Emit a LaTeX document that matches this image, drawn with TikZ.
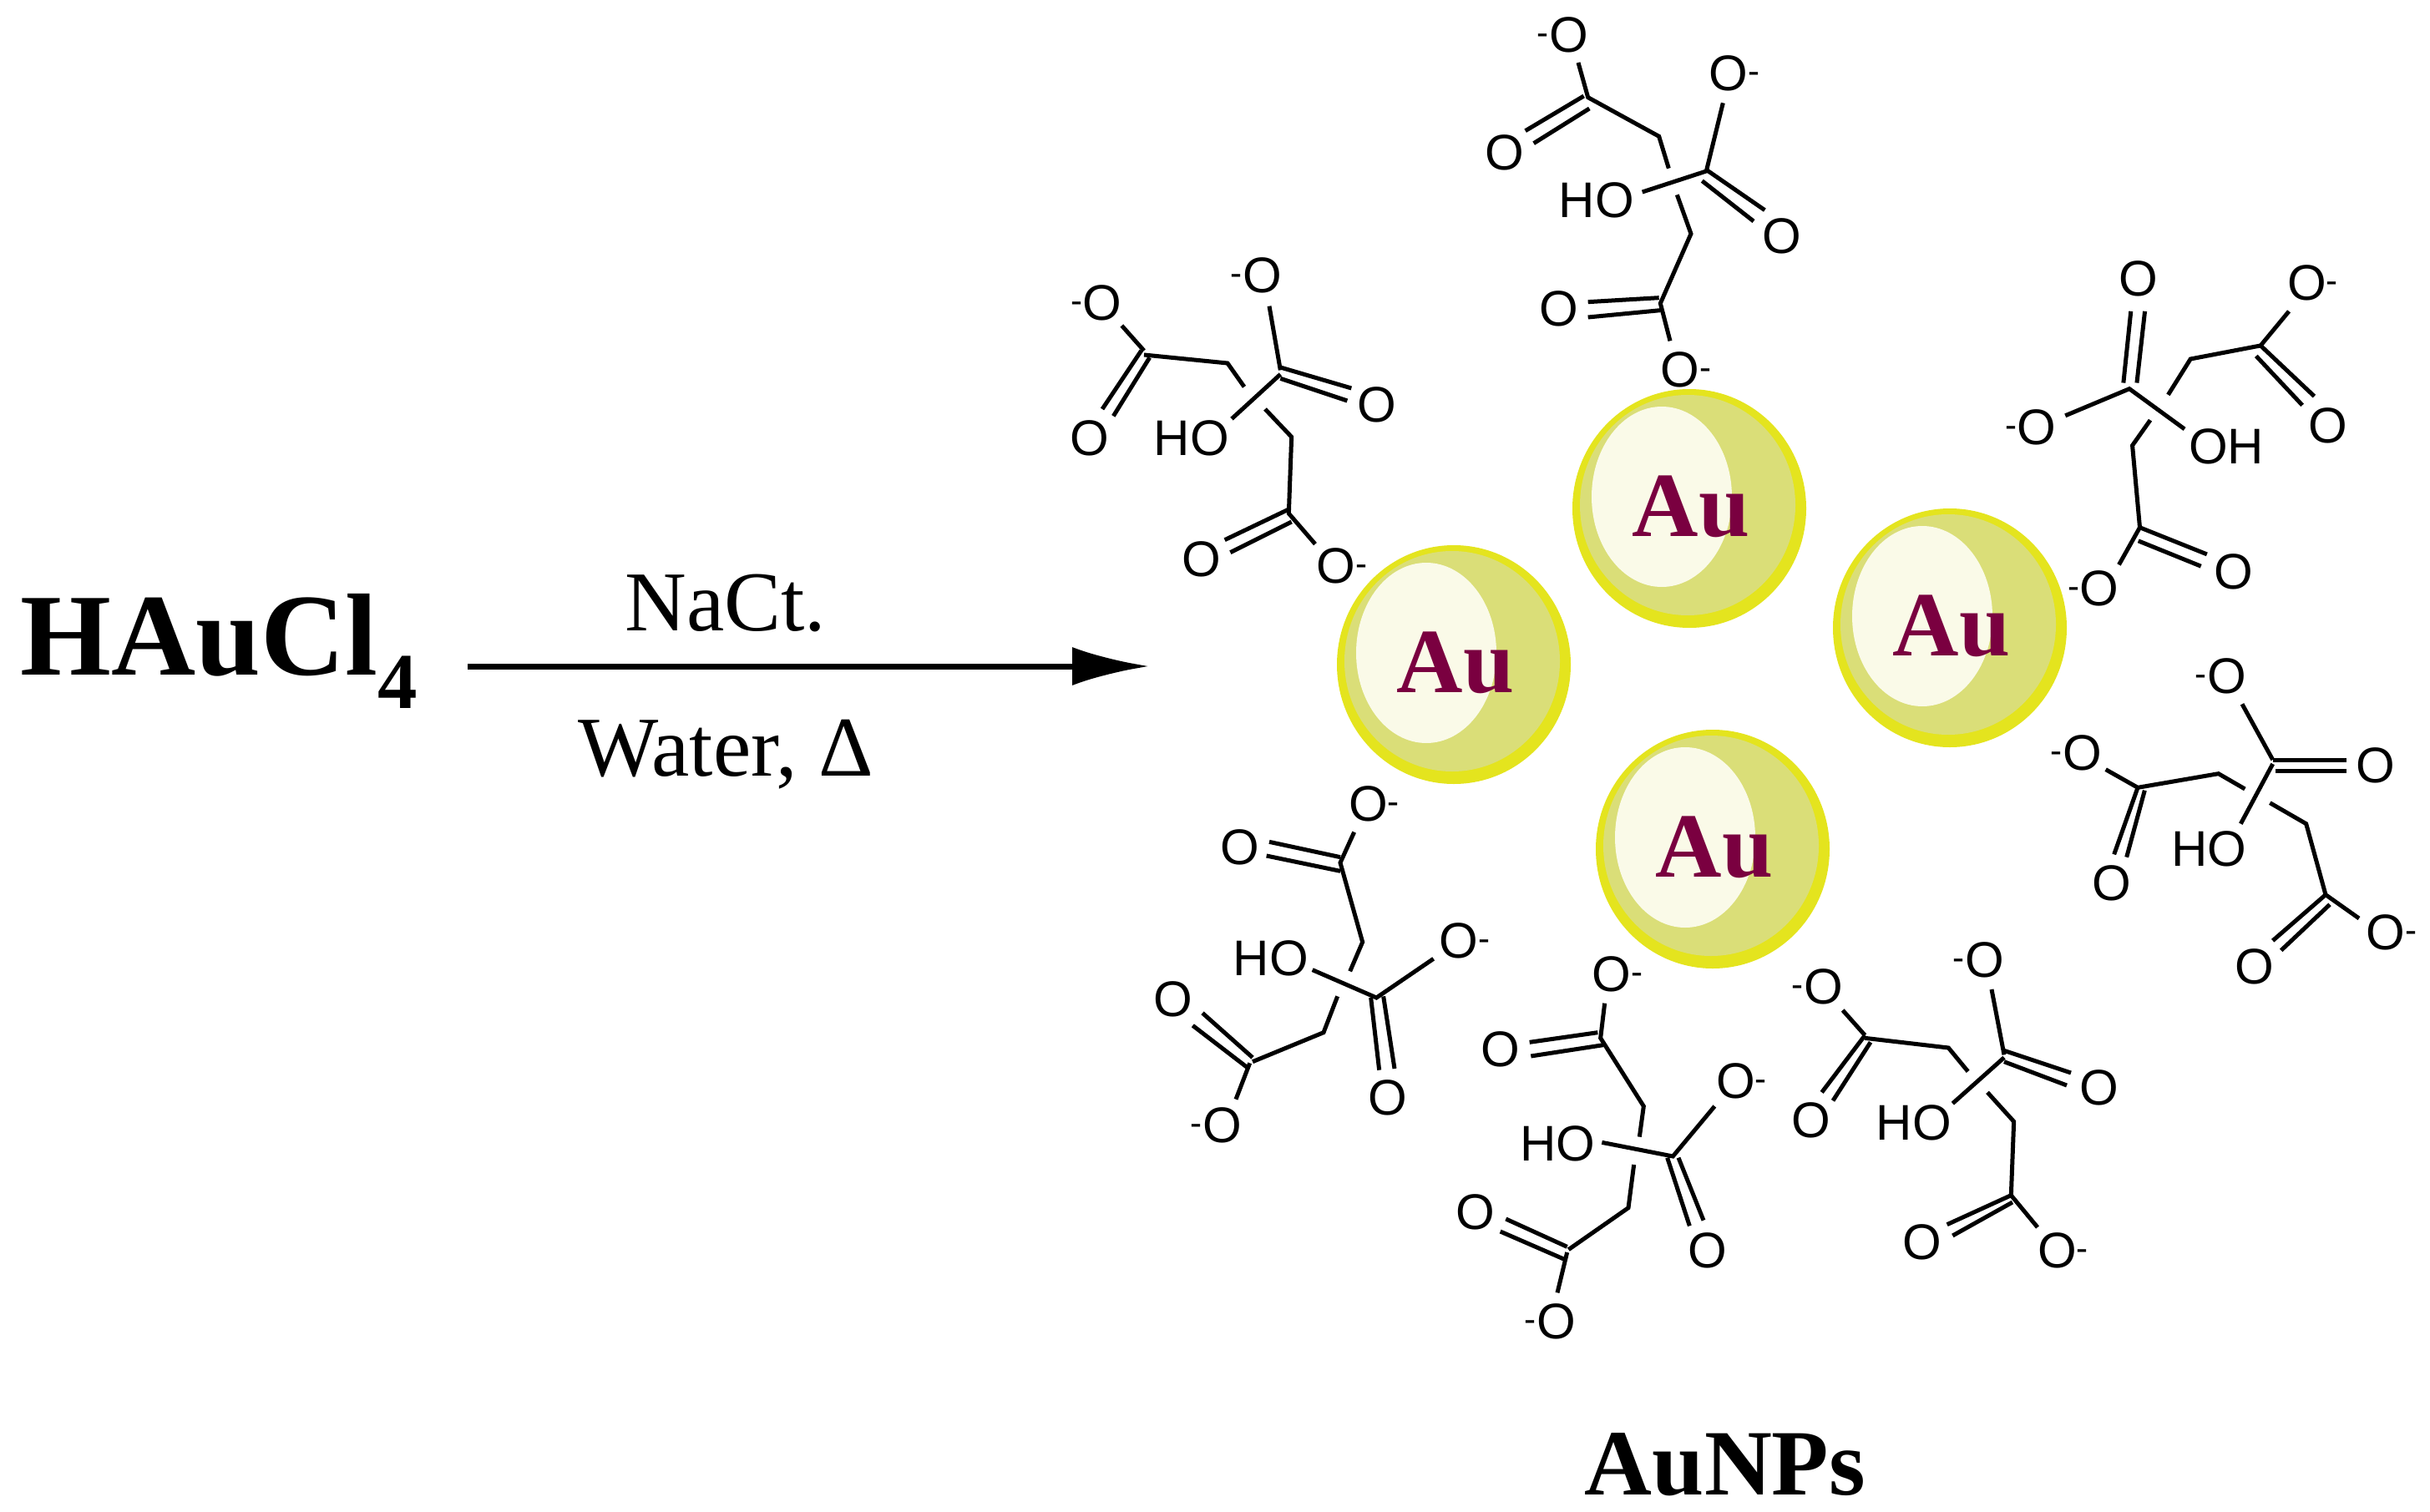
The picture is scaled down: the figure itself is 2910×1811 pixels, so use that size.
\documentclass[tikz,border=0pt]{standalone}
\usepackage{fontspec}
\setmainfont{Liberation Serif}
\newfontfamily\chemfont{Liberation Sans}
\usetikzlibrary{arrows.meta}
\definecolor{rim}{RGB}{228,228,30}
\definecolor{body}{RGB}{218,222,120}
\definecolor{hl}{RGB}{250,250,232}
\definecolor{aucol}{RGB}{122,0,64}
\newcommand{\Om}{\llap{\textsuperscript{-}}O}
\newcommand{\Op}{O\rlap{\textsuperscript{-}}}
\begin{document}
\begin{tikzpicture}[x=1pt,y=-1pt,
  atm/.style={font=\chemfont\fontsize{60}{60}\selectfont, inner sep=0pt},
  bd/.style={line width=5pt, line cap=butt, line join=miter},
  big/.style={font=\bfseries\fontsize{140}{140}\selectfont, inner sep=0pt},
  cond/.style={font=\fontsize{102}{102}\selectfont, inner sep=0pt},
  au/.style={font=\bfseries\fontsize{110}{110}\selectfont, text=aucol, inner sep=0pt}]
\useasboundingbox (0,0) rectangle (2910,1811);

% reaction
\node[big] (h) at (262,780) {HAuCl\raisebox{-0.28em}{\fontsize{95}{95}\selectfont 4}};
\coordinate (a1) at (560,798);
\coordinate (a2) at (1376,798);
\draw[line width=7pt, -{Latex[length=92pt,width=46pt]}] (a1) -- (a2);
\node[cond] (c1) at (869,722) {NaCt.};
\node[cond] (c2) at (869,904) {Water, Δ};
\node[font=\bfseries\fontsize{112}{112}\selectfont, inner sep=0pt] (np) at (2066,1754) {AuNPs};

% spheres
\foreach \n/\cx/\cy in {s1/1741/796, s2/2023/609, s3/2335/752, s4/2051/1017}{
  \fill[rim] (\cx,\cy) ellipse [x radius=140, y radius=143];
  \fill[body] (\cx-2,\cy-4) ellipse [x radius=129, y radius=132];
  \fill[hl] (\cx-33,\cy-14) ellipse [x radius=84, y radius=108];
  \node[au] (\n) at (\cx+2,\cy-2) {Au};
}

% citrate top (zoom1)
\begin{scope}[shift={(1750,0)}, scale=1/3]
\node[atm] (t1) at (385,125) {\Om};
\node[atm] (t2) at (960,265) {\Op};
\node[atm] (t3) at (155,550) {O};
\node[atm] (t4) at (485,720) {HO};
\node[atm] (t5) at (1150,850) {O};
\node[atm] (t6) at (350,1110) {O};
\node[atm] (t7) at (785,1330) {\Op};
\draw[bd] (420,225)--(455,350)--(710,490)--(745,605);
\draw[bd] (230,470)--(440,345) (260,515)--(460,390);
\draw[bd] (650,690)--(880,615)--(940,370);
\draw[bd] (880,610)--(1090,755) (865,650)--(1050,795);
\draw[bd] (775,700)--(825,840)--(715,1090)--(750,1225);
\draw[bd] (455,1085)--(710,1070) (455,1140)--(715,1115);
\end{scope}

% citrate upper right (zoom3)
\begin{scope}[shift={(2350,280)}, scale=1/2.8]
\node[atm] at (590,150) {O};
\node[atm] at (1155,165) {\Op};
\node[atm] at (250,650) {\Om};
\node[atm] at (885,715) {OH};
\node[atm] at (1225,645) {O};
\node[atm] at (460,1190) {\Om};
\node[atm] at (910,1135) {O};
\draw[bd] (540,500)--(565,260) (585,500)--(612,260);
\draw[bd] (345,610)--(560,520)--(745,655);
\draw[bd] (690,540)--(765,420)--(1000,375)--(1095,260);
\draw[bd] (1000,375)--(1180,545) (985,410)--(1140,575);
\draw[bd] (630,625)--(570,710)--(595,985)--(525,1110);
\draw[bd] (595,985)--(820,1075) (590,1030)--(800,1115);
\end{scope}

% citrate lower right (zoom4)
\begin{scope}[shift={(2400,760)}, scale=1/3]
\node[atm] at (800,150) {\Om};
\node[atm] at (280,425) {\Om};
\node[atm] at (1335,470) {O};
\node[atm] at (735,770) {HO};
\node[atm] at (385,895) {O};
\node[atm] at (900,1195) {O};
\node[atm] at (1370,1070) {\Op};
\draw[bd] (855,250)--(965,450);
\draw[bd] (965,450)--(1230,450) (975,490)--(1230,490);
\draw[bd] (965,465)--(850,680);
\draw[bd] (365,485)--(480,550)--(770,500)--(865,555);
\draw[bd] (480,550)--(395,790) (505,560)--(440,800);
\draw[bd] (955,605)--(1085,680)--(1155,935)--(1275,1020);
\draw[bd] (1155,935)--(965,1100) (1170,970)--(995,1135);
\end{scope}

% citrate lower left (zoom5)
\begin{scope}[shift={(1350,920)}, scale=1/3]
\node[atm] at (865,130) {\Op};
\node[atm] at (405,285) {O};
\node[atm] at (515,685) {HO};
\node[atm] at (1190,620) {\Op};
\node[atm] at (165,830) {O};
\node[atm] at (935,1185) {O};
\node[atm] at (340,1285) {\Om};
\draw[bd] (815,230)--(765,340)--(845,625)--(800,730);
\draw[bd] (765,320)--(510,265) (765,370)--(500,315);
\draw[bd] (665,725)--(895,825)--(1100,685);
\draw[bd] (875,825)--(905,1085) (920,820)--(960,1080);
\draw[bd] (755,820)--(705,950)--(450,1055);
\draw[bd] (450,1040)--(270,880) (430,1075)--(235,925);
\draw[bd] (440,1060)--(390,1190);
\end{scope}

% citrate bottom centre (zoom6)
\begin{scope}[shift={(1720,1130)}, scale=1/3]
\node[atm] at (630,110) {\Op};
\node[atm] at (230,380) {O};
\node[atm] at (435,720) {HO};
\node[atm] at (1075,495) {\Op};
\node[atm] at (140,965) {O};
\node[atm] at (975,1105) {O};
\node[atm] at (430,1360) {\Om};
\draw[bd] (605,215)--(590,340)--(745,585)--(730,695);
\draw[bd] (580,320)--(335,355) (600,365)--(340,405);
\draw[bd] (595,715)--(850,765)--(1000,585);
\draw[bd] (830,770)--(910,1015) (870,770)--(960,995);
\draw[bd] (710,795)--(690,950)--(475,1100);
\draw[bd] (470,1090)--(250,990) (460,1135)--(230,1035);
\draw[bd] (470,1110)--(435,1255);
\end{scope}

% citrate bottom right (zoom7)
\begin{scope}[shift={(2130,1100)}, scale=1/3]
\node[atm] at (160,245) {\Om};
\node[atm] at (740,150) {\Om};
\node[atm] at (1150,610) {O};
\node[atm] at (485,735) {HO};
\node[atm] at (115,725) {O};
\node[atm] at (515,1165) {O};
\node[atm] at (1000,1195) {\Op};
\draw[bd] (230,330)--(310,420);
\draw[bd] (310,420)--(155,625) (330,445)--(195,655);
\draw[bd] (310,430)--(610,465)--(680,550);
\draw[bd] (765,255)--(810,490);
\draw[bd] (810,475)--(1050,555) (810,515)--(1035,600);
\draw[bd] (810,500)--(625,665);
\draw[bd] (750,625)--(845,730)--(835,995)--(930,1110);
\draw[bd] (835,995)--(605,1100) (840,1020)--(625,1140);
\end{scope}

% citrate upper left (zoom8)
\begin{scope}[shift={(1270,290)}, scale=1/3]
\node[atm] at (150,220) {\Om};
\node[atm] at (725,120) {\Om};
\node[atm] at (1135,585) {O};
\node[atm] at (470,705) {HO};
\node[atm] at (105,705) {O};
\node[atm] at (505,1140) {O};
\node[atm] at (990,1165) {\Op};
\draw[bd] (220,300)--(300,390);
\draw[bd] (290,390)--(150,600) (320,415)--(190,625);
\draw[bd] (300,405)--(600,435)--(660,520);
\draw[bd] (750,230)--(790,460);
\draw[bd] (790,450)--(1045,525) (790,490)--(1030,570);
\draw[bd] (790,475)--(615,635);
\draw[bd] (735,600)--(830,700)--(820,975)--(915,1085);
\draw[bd] (820,960)--(590,1070) (830,1005)--(610,1115);
\end{scope}
\end{tikzpicture}
\end{document}
